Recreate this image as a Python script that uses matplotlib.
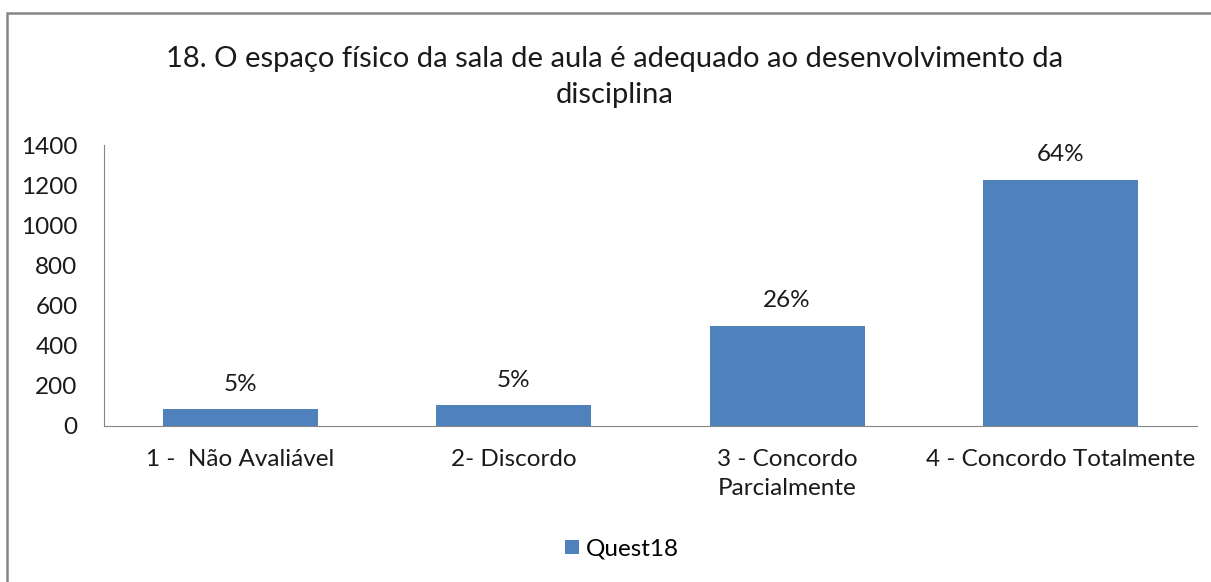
import matplotlib.pyplot as plt
from matplotlib.patches import Rectangle

# dados
categorias = ['1 -  Não Avaliável', '2- Discordo', '3 - Concordo\nParcialmente', '4 - Concordo Totalmente']
valores = [82, 102, 499, 1227]
rotulos = ['5%', '5%', '26%', '64%']
serie = 'Quest18'
titulo = '18. O espaço físico da sala de aula é adequado ao desenvolvimento da\ndisciplina'

plt.rcParams['font.family'] = ['Lato', 'DejaVu Sans']
cor_barra = '#4F81BD'
cor_texto = '#1a1a1a'
cinza = '#868686'

fig = plt.figure(figsize=(12.11, 5.82), dpi=100)
W, H = 1211, 582

# moldura do grafico (so esquerda e topo aparecem)
fig.patches.append(Rectangle((7 / W, -0.1), 1.2, (H - 13) / H + 0.1, transform=fig.transFigure,
                             fill=False, edgecolor=cinza, linewidth=1.8))

ax = fig.add_axes([104 / W, 1 - 425.7 / H, (1197 - 104) / W, (425.7 - 145) / H])
x = range(len(categorias))
barras = ax.bar(x, valores, width=0.567, color=cor_barra, label=serie, zorder=2)

for b, r in zip(barras, rotulos):
    ax.annotate(r, (b.get_x() + b.get_width() / 2, b.get_height()), xytext=(0, 18),
                textcoords='offset points', ha='center', va='center', fontsize=17.5, color=cor_texto)

ax.set_xlim(-0.5, 3.5)
ax.set_ylim(0, 1400)
ax.set_yticks(range(0, 1401, 200))
ax.set_xticks(list(x))
ax.set_xticklabels(categorias, fontsize=17.5, color=cor_texto, linespacing=1.45)
ax.tick_params(axis='y', length=0, pad=19, labelsize=17.5, labelcolor=cor_texto)
ax.tick_params(axis='x', length=0, pad=17)

for s in ['top', 'right']:
    ax.spines[s].set_visible(False)
ax.spines['left'].set_color(cinza)
ax.spines['bottom'].set_color(cinza)

fig.text(615 / W, 1 - 77 / H, titulo, ha='center', va='center', fontsize=21,
         color=cor_texto, linespacing=1.45)

ax.legend(loc='center', bbox_to_anchor=(622 / W, 1 - 549 / H), bbox_transform=fig.transFigure,
          frameon=False, fontsize=17.5, handlelength=0.55, handleheight=0.55, handletextpad=0.3)

plt.savefig('out.png', dpi=100)
